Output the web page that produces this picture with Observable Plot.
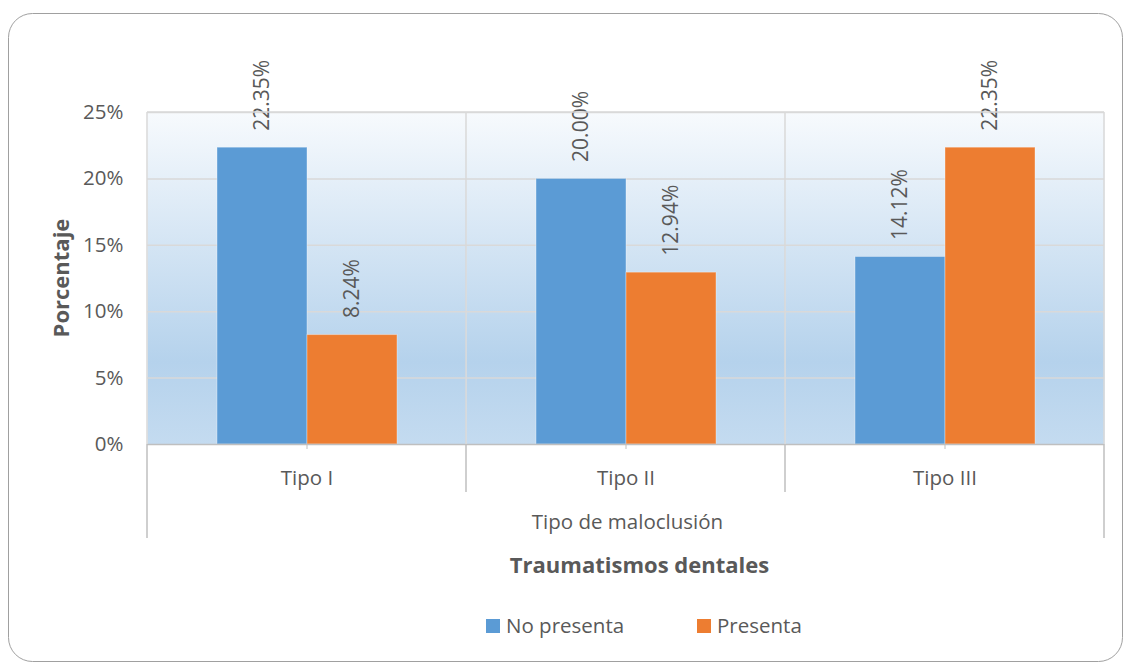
<!DOCTYPE html>
<html>
<head>
<meta charset="utf-8">
<script src="https://cdn.jsdelivr.net/npm/d3@7"></script>
<script src="https://cdn.jsdelivr.net/npm/@observablehq/plot@0.6"></script>
<style>
  html, body { margin: 0; padding: 0; background: #fff; overflow: hidden; }
  #chart { position: relative; width: 1124px; height: 662px; }
  svg { font-family: "Open Sans", sans-serif; }
</style>
</head>
<body>
<div id="chart"></div>
<script>
const categories = ["Tipo I", "Tipo II", "Tipo III"];
const series = ["No presenta", "Presenta"];
const noPresenta = [22.35, 20.00, 14.12];
const presenta = [8.24, 12.94, 22.35];
const colors = ["#5b9bd5", "#ed7d31"];
const yTicks = [0, 5, 10, 15, 20, 25];
const yTitle = "Porcentaje";
const xTitle = "Tipo de maloclusión";
const chartTitle = "Traumatismos dentales";

const data = [];
categories.forEach((c, i) => {
  data.push({cat: c, serie: series[0], value: noPresenta[i]});
  data.push({cat: c, serie: series[1], value: presenta[i]});
});

const textColor = "#595959";

const plot = Plot.plot({
  width: 1124,
  height: 662,
  marginLeft: 146,
  marginRight: 19,
  marginTop: 112,
  marginBottom: 218,
  style: {fontFamily: "Open Sans, sans-serif", fontSize: "20.5px", color: textColor, background: "transparent", overflow: "visible"},
  fx: {domain: categories, padding: 0, label: null},
  x: {domain: series, paddingInner: 0, paddingOuter: 0.756, axis: null},
  y: {domain: [0, 25], axis: null},
  color: {domain: series, range: colors},
  marks: [
    Plot.frame({fill: "url(#bgGrad)", stroke: "none"}),
    Plot.gridY(yTicks.filter(d => d > 0), {stroke: "#d9d9d9", strokeOpacity: 1, strokeWidth: 1.5}),
    Plot.barY(data, {fx: "cat", x: "serie", y: "value", fill: "serie", stroke: "#ffffff", strokeOpacity: 0.35, strokeWidth: 1}),
    Plot.ruleY([0], {stroke: "#bfbfbf", strokeWidth: 1.5}),
    Plot.text(data, {
      fx: "cat", x: "serie", y: "value",
      text: d => d.value.toFixed(2) + "%",
      rotate: -90, textAnchor: "start", lineAnchor: "middle",
      dy: -17, fill: textColor, fontSize: 21
    }),
    Plot.axisY({ticks: yTicks, tickFormat: d => d + "%", tickSize: 0, tickPadding: 24, label: null, fill: textColor, fontSize: 20.5}),
    Plot.axisFx({anchor: "bottom", tickSize: 5, tickPadding: 21, stroke: "#bfbfbf", fill: textColor, label: null, fontSize: 20.5})
  ]
});

document.getElementById("chart").appendChild(plot);

const svg = d3.select(plot);
const defs = svg.insert("defs", ":first-child");
const grad = defs.append("linearGradient").attr("id", "bgGrad")
  .attr("x1", 0).attr("y1", 0).attr("x2", 0).attr("y2", 1);
grad.append("stop").attr("offset", "0%").attr("stop-color", "#f7fafd");
grad.append("stop").attr("offset", "75%").attr("stop-color", "#b5d2ec");
grad.append("stop").attr("offset", "100%").attr("stop-color", "#c4dbf0");

const fx = plot.scale("fx");
const ys = plot.scale("y");
const yTop = ys.apply(25);
const yBot = ys.apply(0);
const bounds = categories.map(c => fx.apply(c)).concat([fx.apply(categories[categories.length - 1]) + fx.bandwidth]);

const deco = svg.append("g");
bounds.forEach((b, i) => {
  const outer = i === 0 || i === bounds.length - 1;
  deco.append("line").attr("x1", b).attr("x2", b).attr("y1", yTop).attr("y2", yBot)
    .attr("stroke", "#d9d9d9").attr("stroke-width", 1.5);
  deco.append("line").attr("x1", b).attr("x2", b).attr("y1", yBot).attr("y2", outer ? yBot + 94 : yBot + 48)
    .attr("stroke", "#bfbfbf").attr("stroke-width", 1.5);
});
deco.append("line").attr("x1", bounds[0]).attr("x2", bounds[bounds.length - 1]).attr("y1", yTop).attr("y2", yTop)
  .attr("stroke", "#d9d9d9").attr("stroke-width", 1.5);

// outer rounded border
svg.append("rect").attr("x", 8.5).attr("y", 13.5).attr("width", 1114).attr("height", 648).attr("rx", 24)
  .attr("fill", "none").attr("stroke", "#a0a0a0").attr("stroke-width", 1);

const cx = (bounds[0] + bounds[bounds.length - 1]) / 2;
svg.append("text").attr("x", cx + 2).attr("y", yBot + 78).attr("dy", "0.35em").attr("text-anchor", "middle")
  .attr("fill", textColor).style("font-size", "20.5px").text(xTitle);
svg.append("text").attr("x", cx + 14).attr("y", yBot + 121).attr("dy", "0.35em").attr("text-anchor", "middle")
  .attr("fill", textColor).style("font-size", "22px").style("font-weight", "bold").text(chartTitle);
svg.append("text").attr("transform", `translate(61,${(yTop + yBot) / 2}) rotate(-90)`).attr("dy", "0.35em")
  .attr("text-anchor", "middle").attr("fill", textColor).style("font-size", "22px").style("font-weight", "bold").text(yTitle);

// legend
const legendX = [486, 697];
const legendY = 626;
series.forEach((s, i) => {
  const g = svg.append("g");
  g.append("rect").attr("x", legendX[i]).attr("y", legendY - 7).attr("width", 14).attr("height", 14).attr("fill", colors[i]);
  g.append("text").attr("x", legendX[i] + 20).attr("y", legendY).attr("dy", "0.35em").attr("text-anchor", "start")
    .attr("fill", textColor).style("font-size", "20.5px").text(s);
});
</script>
</body>
</html>
